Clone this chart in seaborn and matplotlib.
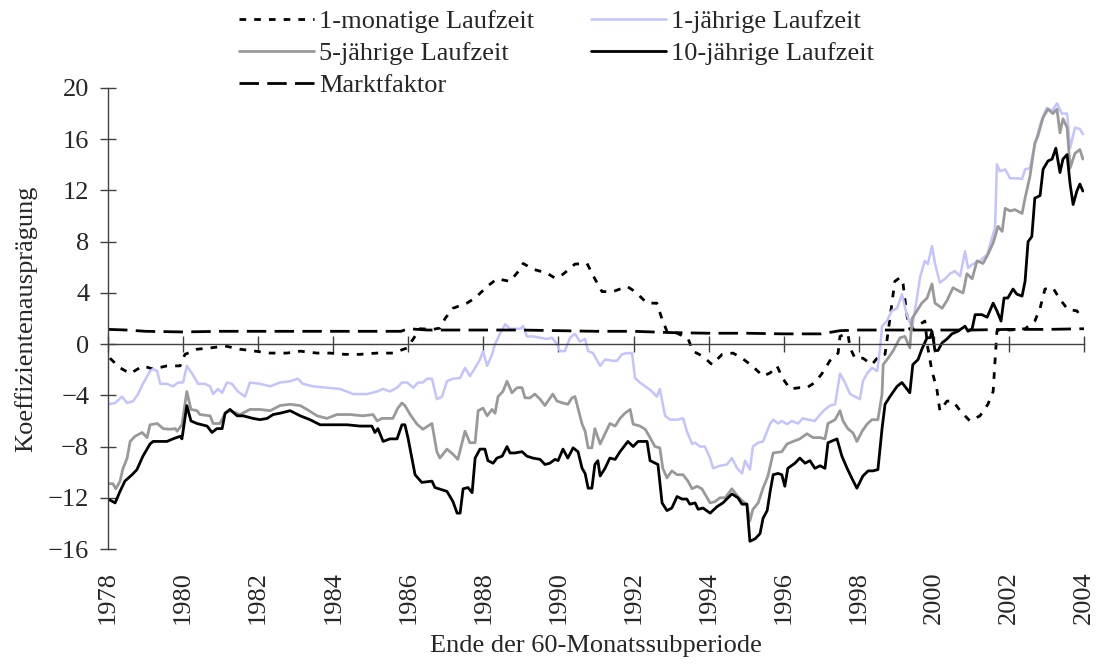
import matplotlib
matplotlib.use("Agg")
import matplotlib.pyplot as plt
import numpy as np
import pandas as pd
import seaborn as sns

# ---------------- data (year, coefficient) ----------------
one_month = [
    (1978.05, -1.1), (1978.32, -1.85), (1978.59, -2.3), (1978.93, -1.7), (1979.20, -1.95),
    (1979.57, -1.7), (1979.92, -1.7), (1980.05, -0.8), (1980.37, -0.4), (1980.72, -0.3),
    (1981.12, -0.15), (1981.52, -0.4), (1981.92, -0.55), (1982.32, -0.7), (1982.77, -0.7),
    (1983.12, -0.55), (1983.57, -0.7), (1983.91, -0.7), (1984.31, -0.8), (1984.71, -0.8),
    (1985.17, -0.7), (1985.59, -0.7), (1985.97, -0.3), (1986.13, 0.4), (1986.31, 1.2),
    (1986.66, 1.15), (1986.84, 1.25), (1986.98, 2.0), (1987.19, 2.8), (1987.56, 3.2),
    (1987.78, 3.6), (1988.10, 4.5), (1988.36, 5.1), (1988.71, 4.9), (1988.98, 5.85),
    (1989.06, 6.3), (1989.32, 5.85), (1989.69, 5.55), (1989.91, 5.15), (1990.12, 5.45),
    (1990.44, 6.25), (1990.76, 6.3), (1990.97, 5.1), (1991.16, 4.1), (1991.45, 4.1),
    (1991.83, 4.5), (1992.04, 4.1), (1992.36, 3.2), (1992.62, 3.2), (1992.76, 1.95),
    (1992.89, 1.0), (1993.16, 0.85), (1993.45, 0.45), (1993.58, -0.55), (1993.85, -0.95),
    (1994.09, -1.6), (1994.36, -0.8), (1994.65, -0.7), (1994.89, -1.1), (1995.16, -1.7),
    (1995.45, -2.5), (1995.64, -2.25), (1995.82, -1.7), (1995.98, -2.7), (1996.17, -3.5),
    (1996.43, -3.4), (1996.62, -3.4), (1996.83, -3.0), (1997.02, -2.3), (1997.23, -1.3),
    (1997.45, -0.7), (1997.50, 0.6), (1997.63, 0.8), (1997.71, 0.8), (1997.77, -0.3),
    (1997.90, -1.1), (1998.11, -1.1), (1998.35, -1.6), (1998.57, -0.8), (1998.70, -0.8),
    (1998.83, 2.0), (1998.96, 4.9), (1999.10, 5.2), (1999.18, 4.7), (1999.28, 2.3),
    (1999.36, 1.15), (1999.63, 1.55), (1999.76, 1.8), (1999.84, -0.3), (1999.95, -2.1),
    (2000.08, -3.5), (2000.16, -5.2), (2000.35, -4.45), (2000.51, -4.45), (2000.70, -5.2),
    (2000.96, -6.0), (2001.23, -5.6), (2001.44, -4.7), (2001.58, -3.7), (2001.63, -1.3),
    (2001.66, 0.0), (2001.68, 1.0), (2001.76, 1.15), (2002.03, 1.1), (2002.43, 1.2),
    (2002.69, 1.8), (2002.83, 2.8), (2002.96, 4.3), (2003.17, 4.4), (2003.36, 3.5),
    (2003.57, 2.7), (2003.81, 2.6), (2003.95, 2.0),
]

one_year = [
    (1978.00, -4.7), (1978.19, -4.6), (1978.37, -4.1), (1978.51, -4.6), (1978.67, -4.45),
    (1978.80, -3.9), (1978.93, -3.1), (1979.12, -2.1), (1979.20, -1.95), (1979.31, -2.1),
    (1979.39, -3.1), (1979.57, -3.1), (1979.73, -3.3), (1979.87, -3.0), (1980.00, -3.0),
    (1980.10, -1.7), (1980.24, -2.3), (1980.40, -3.1), (1980.58, -3.1), (1980.72, -3.3),
    (1980.80, -3.9), (1980.93, -3.5), (1981.04, -3.8), (1981.17, -3.0), (1981.30, -3.1),
    (1981.46, -3.7), (1981.65, -4.1), (1981.78, -3.0), (1982.05, -3.1), (1982.32, -3.3),
    (1982.58, -3.0), (1982.85, -2.9), (1983.06, -2.7), (1983.19, -3.1), (1983.46, -3.3),
    (1983.83, -3.4), (1984.18, -3.5), (1984.53, -3.9), (1984.90, -3.9), (1985.17, -3.7),
    (1985.33, -3.5), (1985.51, -3.7), (1985.70, -3.4), (1985.83, -3.0), (1985.97, -3.0),
    (1986.13, -3.4), (1986.26, -3.0), (1986.39, -3.0), (1986.50, -2.7), (1986.63, -2.7),
    (1986.76, -4.3), (1986.90, -4.1), (1987.03, -2.9), (1987.19, -2.7), (1987.38, -2.65),
    (1987.51, -1.85), (1987.64, -2.5), (1987.78, -1.85), (1987.91, -1.2), (1987.99, -0.55),
    (1988.10, -1.7), (1988.23, -0.8), (1988.31, 0.0), (1988.44, 0.8), (1988.58, 1.55),
    (1988.71, 1.2), (1988.84, 1.2), (1988.98, 1.2), (1989.06, 1.4), (1989.16, 0.6),
    (1989.32, 0.6), (1989.51, 0.5), (1989.69, 0.4), (1989.83, 0.5), (1989.96, 0.0),
    (1990.04, -0.55), (1990.17, -0.55), (1990.31, 0.5), (1990.44, 0.8), (1990.57, 0.2),
    (1990.71, 0.4), (1990.79, -0.55), (1990.92, -0.7), (1991.11, -1.7), (1991.24, -1.2),
    (1991.43, -1.3), (1991.56, -1.3), (1991.69, -0.8), (1991.83, -0.7), (1991.96, -0.7),
    (1992.04, -2.65), (1992.17, -3.0), (1992.36, -3.4), (1992.49, -3.7), (1992.62, -4.1),
    (1992.70, -3.5), (1992.84, -5.6), (1992.97, -5.9), (1993.16, -5.9), (1993.32, -5.8),
    (1993.42, -6.8), (1993.56, -7.8), (1993.64, -7.7), (1993.77, -8.0), (1993.90, -8.0),
    (1994.04, -8.9), (1994.12, -9.7), (1994.30, -9.5), (1994.49, -9.4), (1994.62, -8.9),
    (1994.76, -9.7), (1994.89, -10.1), (1994.97, -9.1), (1995.10, -9.8), (1995.18, -8.0),
    (1995.32, -7.7), (1995.45, -7.6), (1995.64, -6.2), (1995.72, -5.9), (1995.85, -6.2),
    (1995.95, -6.0), (1996.09, -6.25), (1996.22, -6.0), (1996.38, -6.2), (1996.51, -5.8),
    (1996.65, -5.9), (1996.83, -6.0), (1996.97, -5.5), (1997.10, -5.1), (1997.23, -4.8),
    (1997.37, -4.7), (1997.50, -2.3), (1997.63, -3.0), (1997.77, -3.9), (1997.90, -4.1),
    (1998.03, -4.3), (1998.11, -2.9), (1998.22, -2.3), (1998.35, -1.85), (1998.49, -2.1),
    (1998.57, -0.3), (1998.62, 1.4), (1998.75, 1.8), (1998.88, 2.6), (1999.02, 2.8),
    (1999.15, 3.9), (1999.28, 2.3), (1999.42, 1.25), (1999.55, 3.6), (1999.63, 5.2),
    (1999.76, 6.5), (1999.84, 6.25), (1999.95, 7.65), (2000.03, 6.3), (2000.16, 4.8),
    (2000.30, 5.1), (2000.43, 5.5), (2000.56, 5.7), (2000.70, 5.3), (2000.83, 7.25),
    (2000.91, 5.95), (2001.04, 6.25), (2001.23, 6.5), (2001.42, 7.0), (2001.55, 8.3),
    (2001.63, 9.1), (2001.68, 14.05), (2001.76, 13.5), (2001.90, 13.65), (2002.03, 12.95),
    (2002.21, 12.95), (2002.35, 12.9), (2002.43, 13.65), (2002.56, 13.75), (2002.64, 14.9),
    (2002.75, 16.25), (2002.88, 17.6), (2003.01, 18.45), (2003.15, 18.2), (2003.28, 18.8),
    (2003.41, 18.0), (2003.55, 18.0), (2003.63, 15.3), (2003.76, 16.9), (2003.89, 16.8),
    (2003.97, 16.4),
]

five_year = [
    (1978.00, -10.9), (1978.13, -10.9), (1978.21, -11.3), (1978.32, -10.7), (1978.40, -9.7),
    (1978.51, -8.9), (1978.59, -7.6), (1978.72, -7.2), (1978.91, -6.9), (1979.04, -7.3),
    (1979.12, -6.3), (1979.31, -6.2), (1979.47, -6.6), (1979.65, -6.65), (1979.79, -6.6),
    (1979.84, -6.8), (1979.97, -6.3), (1980.10, -3.7), (1980.21, -5.1), (1980.37, -5.2),
    (1980.45, -5.5), (1980.72, -5.6), (1980.80, -6.2), (1980.98, -6.2), (1981.12, -5.4),
    (1981.25, -5.2), (1981.52, -5.5), (1981.78, -5.1), (1982.05, -5.1), (1982.32, -5.2),
    (1982.58, -4.8), (1982.85, -4.7), (1983.12, -4.8), (1983.30, -5.1), (1983.57, -5.6),
    (1983.83, -5.8), (1984.10, -5.5), (1984.45, -5.5), (1984.79, -5.6), (1985.06, -5.5),
    (1985.17, -6.0), (1985.30, -5.8), (1985.43, -5.8), (1985.59, -5.8), (1985.72, -5.0),
    (1985.83, -4.6), (1985.91, -4.8), (1986.05, -5.5), (1986.23, -6.25), (1986.39, -6.65),
    (1986.63, -6.2), (1986.76, -8.4), (1986.84, -8.9), (1987.03, -8.2), (1987.19, -8.6),
    (1987.32, -9.0), (1987.51, -6.8), (1987.64, -7.7), (1987.78, -7.7), (1987.86, -5.2),
    (1987.99, -5.0), (1988.10, -5.6), (1988.23, -5.1), (1988.31, -5.4), (1988.39, -4.1),
    (1988.52, -3.7), (1988.63, -2.9), (1988.76, -3.8), (1988.90, -3.4), (1989.03, -3.4),
    (1989.11, -4.2), (1989.24, -4.2), (1989.37, -3.9), (1989.51, -4.3), (1989.64, -4.8),
    (1989.72, -4.45), (1989.85, -3.9), (1989.96, -4.45), (1990.12, -4.6), (1990.25, -4.7),
    (1990.36, -4.2), (1990.44, -4.1), (1990.52, -5.0), (1990.63, -6.25), (1990.71, -6.8),
    (1990.79, -8.1), (1990.89, -8.1), (1990.97, -6.6), (1991.11, -7.8), (1991.24, -7.0),
    (1991.37, -6.2), (1991.51, -6.4), (1991.64, -5.8), (1991.77, -5.4), (1991.91, -5.1),
    (1991.99, -6.25), (1992.17, -6.4), (1992.31, -6.65), (1992.44, -7.3), (1992.57, -8.0),
    (1992.70, -8.1), (1992.78, -9.7), (1992.89, -10.45), (1993.02, -9.9), (1993.16, -10.2),
    (1993.32, -10.2), (1993.45, -10.7), (1993.56, -11.3), (1993.69, -11.1), (1993.82, -11.3),
    (1993.96, -12.0), (1994.04, -12.4), (1994.17, -12.3), (1994.30, -12.0), (1994.44, -12.0),
    (1994.62, -11.3), (1994.78, -11.9), (1994.92, -12.3), (1995.02, -12.5), (1995.10, -13.8),
    (1995.18, -12.9), (1995.32, -12.4), (1995.45, -11.25), (1995.58, -10.3), (1995.72, -8.5),
    (1995.95, -8.4), (1996.09, -7.8), (1996.25, -7.6), (1996.43, -7.4), (1996.62, -7.0),
    (1996.78, -7.3), (1996.97, -7.3), (1997.10, -7.4), (1997.18, -6.2), (1997.37, -5.9),
    (1997.50, -5.2), (1997.58, -6.0), (1997.71, -6.6), (1997.85, -6.95), (1997.95, -7.6),
    (1998.09, -6.8), (1998.22, -6.25), (1998.35, -5.9), (1998.51, -5.9), (1998.62, -3.9),
    (1998.65, -1.6), (1998.78, -1.1), (1998.91, -0.55), (1999.10, 0.5), (1999.23, 0.6),
    (1999.36, -0.3), (1999.42, 2.0), (1999.55, 2.6), (1999.68, 3.2), (1999.82, 3.6),
    (1999.95, 4.7), (2000.03, 3.2), (2000.22, 2.8), (2000.35, 3.4), (2000.51, 4.4),
    (2000.70, 4.1), (2000.78, 4.0), (2000.88, 5.5), (2001.02, 5.1), (2001.15, 6.5),
    (2001.31, 6.3), (2001.44, 7.0), (2001.58, 7.9), (2001.71, 9.2), (2001.82, 8.8),
    (2001.90, 10.6), (2002.03, 10.4), (2002.16, 10.5), (2002.35, 10.2), (2002.43, 11.4),
    (2002.56, 13.1), (2002.69, 15.7), (2002.77, 16.25), (2002.91, 17.7), (2003.04, 18.35),
    (2003.17, 18.0), (2003.28, 18.35), (2003.36, 16.5), (2003.44, 17.6), (2003.55, 16.9),
    (2003.63, 13.75), (2003.76, 14.9), (2003.89, 15.2), (2003.97, 14.45),
]

ten_year = [
    (1978.00, -12.1), (1978.19, -12.4), (1978.32, -11.5), (1978.45, -10.7), (1978.64, -10.2),
    (1978.77, -9.8), (1978.93, -8.75), (1979.12, -7.8), (1979.20, -7.6), (1979.57, -7.6),
    (1979.73, -7.4), (1979.92, -7.2), (1979.97, -7.4), (1980.10, -4.8), (1980.21, -6.0),
    (1980.37, -6.2), (1980.64, -6.4), (1980.77, -6.9), (1980.90, -6.6), (1981.04, -6.6),
    (1981.12, -5.4), (1981.25, -5.1), (1981.44, -5.6), (1981.60, -5.6), (1981.86, -5.8),
    (1982.05, -5.9), (1982.24, -5.8), (1982.40, -5.5), (1982.58, -5.4), (1982.85, -5.2),
    (1983.12, -5.6), (1983.38, -5.9), (1983.65, -6.3), (1983.99, -6.3), (1984.37, -6.3),
    (1984.71, -6.4), (1985.03, -6.4), (1985.11, -6.9), (1985.19, -6.6), (1985.33, -7.6),
    (1985.51, -7.4), (1985.70, -7.4), (1985.83, -6.3), (1985.91, -6.3), (1985.99, -7.3),
    (1986.18, -10.2), (1986.36, -10.8), (1986.63, -10.7), (1986.71, -11.2), (1987.03, -11.5),
    (1987.19, -12.3), (1987.30, -13.2), (1987.38, -13.2), (1987.46, -11.3), (1987.59, -11.2),
    (1987.70, -11.6), (1987.78, -8.9), (1987.91, -8.2), (1988.04, -8.2), (1988.12, -9.1),
    (1988.26, -9.3), (1988.36, -8.9), (1988.50, -8.75), (1988.63, -8.0), (1988.71, -8.5),
    (1988.84, -8.5), (1989.03, -8.4), (1989.16, -8.75), (1989.32, -8.9), (1989.51, -9.0),
    (1989.64, -9.4), (1989.77, -9.3), (1989.91, -9.0), (1989.99, -9.1), (1990.12, -8.2),
    (1990.25, -8.9), (1990.39, -8.1), (1990.52, -8.4), (1990.63, -9.7), (1990.71, -10.1),
    (1990.79, -11.25), (1990.89, -11.25), (1990.97, -9.4), (1991.05, -9.1), (1991.11, -10.3),
    (1991.24, -9.7), (1991.37, -8.9), (1991.51, -9.0), (1991.64, -8.4), (1991.72, -8.1),
    (1991.85, -7.6), (1991.99, -8.0), (1992.12, -7.6), (1992.36, -7.6), (1992.44, -9.1),
    (1992.65, -9.4), (1992.76, -12.4), (1992.89, -13.0), (1993.02, -12.8), (1993.16, -11.9),
    (1993.29, -12.1), (1993.42, -12.1), (1993.50, -12.5), (1993.64, -12.4), (1993.72, -12.9),
    (1993.85, -12.8), (1994.04, -13.2), (1994.22, -12.7), (1994.38, -12.4), (1994.62, -11.7),
    (1994.78, -12.0), (1994.89, -12.5), (1995.02, -12.5), (1995.10, -15.4), (1995.24, -15.2),
    (1995.37, -14.8), (1995.45, -13.6), (1995.56, -13.0), (1995.64, -11.5), (1995.72, -10.2),
    (1995.85, -10.1), (1995.95, -10.2), (1996.03, -11.1), (1996.11, -9.7), (1996.30, -9.3),
    (1996.43, -8.9), (1996.57, -9.3), (1996.70, -9.1), (1996.83, -9.7), (1996.97, -9.5),
    (1997.10, -9.7), (1997.18, -7.7), (1997.42, -7.4), (1997.55, -8.75), (1997.69, -9.7),
    (1997.82, -10.5), (1997.95, -11.25), (1998.11, -10.3), (1998.25, -9.9), (1998.38, -9.9),
    (1998.51, -9.8), (1998.62, -6.6), (1998.70, -4.7), (1998.83, -4.1), (1999.02, -3.3),
    (1999.15, -3.0), (1999.23, -3.3), (1999.36, -3.8), (1999.44, -1.6), (1999.58, -1.2),
    (1999.68, -0.4), (1999.82, 0.5), (1999.90, 0.5), (1999.95, 1.0), (2000.03, -0.5),
    (2000.11, -0.5), (2000.22, 0.1), (2000.35, 0.4), (2000.48, 0.8), (2000.64, 1.0),
    (2000.83, 1.4), (2000.91, 1.0), (2001.02, 1.2), (2001.10, 2.3), (2001.28, 2.3),
    (2001.42, 2.1), (2001.58, 3.2), (2001.68, 2.6), (2001.79, 1.8), (2001.87, 3.6),
    (2001.97, 3.6), (2002.11, 4.3), (2002.21, 3.9), (2002.35, 3.75), (2002.43, 4.9),
    (2002.51, 8.0), (2002.61, 8.4), (2002.69, 11.4), (2002.83, 11.6), (2002.91, 13.65),
    (2003.04, 14.3), (2003.15, 14.45), (2003.25, 15.3), (2003.36, 13.4), (2003.44, 14.45),
    (2003.55, 14.8), (2003.63, 12.5), (2003.71, 10.9), (2003.81, 11.95), (2003.89, 12.5),
    (2003.97, 11.95),
]

market = [
    (1978.00, 1.15), (1978.50, 1.1), (1979.00, 1.0), (1980.00, 0.95), (1981.00, 1.0),
    (1982.00, 1.0), (1983.00, 1.0), (1984.00, 1.0), (1985.00, 1.0), (1985.80, 1.0),
    (1986.00, 1.2), (1986.50, 1.1), (1987.00, 1.1), (1988.00, 1.1), (1989.00, 1.1),
    (1990.00, 1.05), (1991.00, 1.0), (1992.00, 1.0), (1992.50, 0.95), (1993.00, 0.9),
    (1994.00, 0.85), (1995.00, 0.85), (1996.00, 0.8), (1997.00, 0.8), (1997.50, 1.05),
    (1998.00, 1.1), (1999.00, 1.1), (2000.00, 1.1), (2001.00, 1.1), (2002.00, 1.15),
    (2003.00, 1.15), (2004.00, 1.2),
]

labels = ["1-monatige Laufzeit", "1-jährige Laufzeit", "5-jährige Laufzeit",
          "10-jährige Laufzeit", "Marktfaktor"]
x_ticks = list(range(1978, 2005, 2))
y_ticks = list(range(-16, 21, 4))

# ---------------- style ----------------
sns.set_style("white")
plt.rcParams["font.family"] = ["Liberation Serif", "DejaVu Serif"]
FS = 19

fig = plt.figure(figsize=(11, 6.66), dpi=100)
ax = fig.add_axes([108 / 1100, 1 - 549 / 666, (1084 - 108) / 1100, (549 - 88) / 666])

styles = [
    dict(color="black", linewidth=2.0, linestyle=(0, (2.4, 2.9))),
    dict(color="#c3c3ff", linewidth=1.8, linestyle="-"),
    dict(color="#999999", linewidth=2.0, linestyle="-"),
    dict(color="black", linewidth=2.0, linestyle="-"),
    dict(color="black", linewidth=2.0, linestyle=(0, (7, 3))),
]
datasets = [one_month, one_year, five_year, ten_year, market]

for lab, data, st in zip(labels, datasets, styles):
    df = pd.DataFrame(data, columns=["Jahr", "Wert"])
    sns.lineplot(data=df, x="Jahr", y="Wert", ax=ax, label=lab,
                 estimator=None, sort=False, **st)

ax.set_xlim(1978, 2004)
ax.set_ylim(-16, 20)
ax.set_yticks(y_ticks)
ax.set_xticks(x_ticks)
ax.set_xlabel("")
ax.set_ylabel("Koeffizientenausprägung", fontsize=FS, labelpad=8)

for s in ["top", "right"]:
    ax.spines[s].set_visible(False)
ax.spines["bottom"].set_position(("data", 0))
for s in ["bottom", "left"]:
    ax.spines[s].set_color("#404040")
    ax.spines[s].set_linewidth(1.0)

ax.tick_params(axis="x", bottom=True, direction="inout", length=12, width=1,
               color="#404040", labelbottom=False)
ax.tick_params(axis="y", left=True, direction="inout", length=11, width=1,
               color="#404040", labelsize=FS, pad=8)

sec = ax.secondary_xaxis("bottom")
sec.set_xticks(x_ticks)
sec.tick_params(bottom=True, length=0, pad=16, labelsize=FS, labelrotation=90)
sec.spines["bottom"].set_visible(False)
sec.set_xlabel("Ende der 60-Monatssubperiode", fontsize=FS, labelpad=8)

# legend (row-major order as in the reference)
if ax.get_legend() is not None:
    ax.get_legend().remove()
h, l = ax.get_legend_handles_labels()
order = [0, 2, 4, 1, 3]
fig.legend([h[i] for i in order], [l[i] for i in order],
           loc="upper left", bbox_to_anchor=(236 / 1100, 1 - 7 / 666), ncol=2,
           frameon=False, fontsize=FS, handlelength=2.85, handletextpad=0.2,
           columnspacing=2.15, labelspacing=0.33, borderpad=0.1, borderaxespad=0)

fig.savefig("out.png", dpi=100)
